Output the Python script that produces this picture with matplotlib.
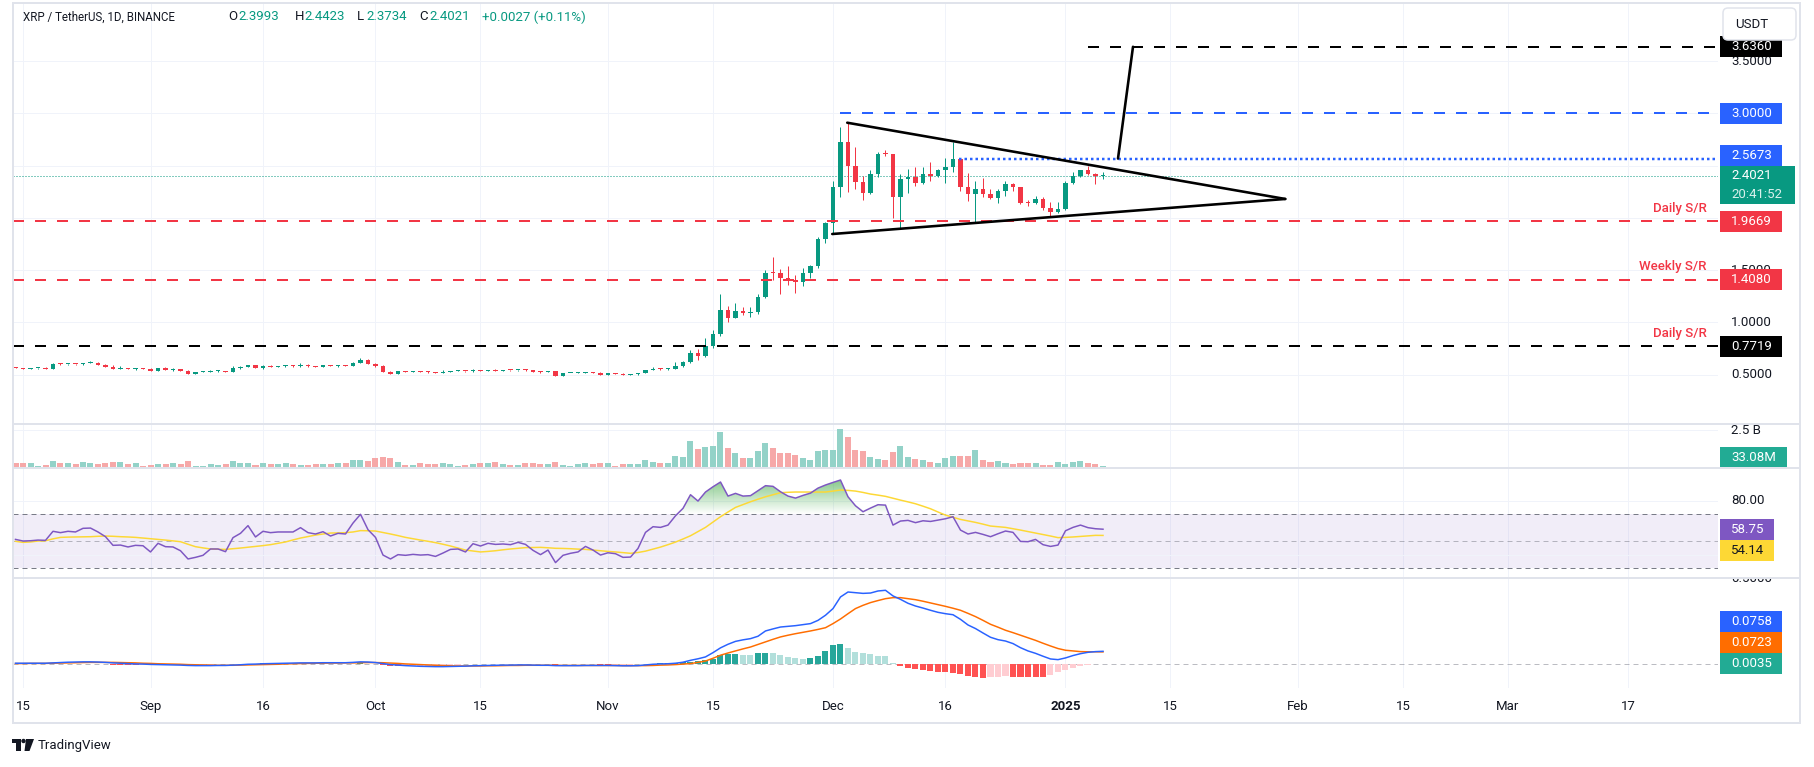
import numpy as np
import matplotlib.pyplot as plt
from matplotlib.patches import Rectangle, FancyBboxPatch, Circle, Polygon
from matplotlib.colors import LinearSegmentedColormap
from matplotlib.path import Path

plt.rcParams['font.family'] = ['Roboto', 'DejaVu Sans']
plt.rcParams['lines.scale_dashes'] = False

# XRP/USDT daily candles, day 0 = 2024-08-15, first candle is day -1
first_day = -1
first_open = 0.571
close = [0.565, 0.559, 0.562, 0.565, 0.559, 0.606, 0.600, 0.603, 0.600, 0.613,
         0.616, 0.597, 0.578, 0.559, 0.562, 0.559, 0.562, 0.559, 0.536, 0.565,
         0.546, 0.552, 0.536, 0.511, 0.527, 0.528, 0.536, 0.537, 0.530, 0.565,
         0.575, 0.594, 0.568, 0.587, 0.578, 0.584, 0.587, 0.581, 0.597, 0.581,
         0.579, 0.590, 0.587, 0.590, 0.587, 0.616, 0.641, 0.606, 0.584, 0.530,
         0.511, 0.536, 0.530, 0.533, 0.529, 0.524, 0.520, 0.530, 0.536, 0.537,
         0.533, 0.546, 0.540, 0.546, 0.540, 0.546, 0.543, 0.546, 0.543, 0.530,
         0.529, 0.533, 0.492, 0.517, 0.518, 0.519, 0.524, 0.520, 0.501, 0.517,
         0.511, 0.501, 0.508, 0.517, 0.546, 0.558, 0.552, 0.558, 0.584, 0.622,
         0.705, 0.679, 0.772, 0.890, 1.119, 1.046, 1.110, 1.094, 1.100, 1.244,
         1.473, 1.470, 1.429, 1.403, 1.390, 1.473, 1.540, 1.798, 1.948, 2.292,
         2.729, 2.496, 2.346, 2.241, 2.420, 2.614, 2.610, 2.203, 2.372, 2.394,
         2.331, 2.420, 2.398, 2.455, 2.484, 2.563, 2.298, 2.232, 2.276, 2.232,
         2.193, 2.260, 2.324, 2.292, 2.145, 2.141, 2.178, 2.092, 2.053, 2.085,
         2.334, 2.398, 2.455, 2.417, 2.3993, 2.4021]
high = [0.575, 0.568, 0.566, 0.568, 0.575, 0.610, 0.616, 0.607, 0.606, 0.616,
        0.632, 0.619, 0.600, 0.597, 0.584, 0.566, 0.565, 0.566, 0.562, 0.568,
        0.575, 0.562, 0.556, 0.546, 0.530, 0.533, 0.546, 0.543, 0.540, 0.584,
        0.581, 0.597, 0.597, 0.590, 0.590, 0.587, 0.590, 0.590, 0.613, 0.600,
        0.587, 0.594, 0.594, 0.594, 0.594, 0.619, 0.661, 0.648, 0.613, 0.590,
        0.533, 0.540, 0.540, 0.536, 0.537, 0.533, 0.527, 0.546, 0.540, 0.543,
        0.540, 0.552, 0.549, 0.549, 0.559, 0.549, 0.549, 0.549, 0.559, 0.546,
        0.533, 0.536, 0.536, 0.520, 0.521, 0.524, 0.527, 0.527, 0.524, 0.520,
        0.520, 0.514, 0.511, 0.520, 0.549, 0.578, 0.562, 0.562, 0.625, 0.635,
        0.737, 0.743, 0.855, 0.928, 1.272, 1.158, 1.186, 1.148, 1.148, 1.269,
        1.502, 1.626, 1.508, 1.540, 1.454, 1.521, 1.553, 1.817, 1.958, 2.353,
        2.872, 2.910, 2.681, 2.401, 2.458, 2.630, 2.649, 2.612, 2.420, 2.468,
        2.483, 2.487, 2.538, 2.467, 2.573, 2.722, 2.576, 2.426, 2.353, 2.378,
        2.279, 2.273, 2.353, 2.337, 2.295, 2.171, 2.209, 2.197, 2.152, 2.152,
        2.356, 2.442, 2.458, 2.499, 2.426, 2.4423]
low = [0.562, 0.556, 0.556, 0.559, 0.556, 0.556, 0.594, 0.597, 0.597, 0.597,
       0.610, 0.594, 0.575, 0.556, 0.556, 0.556, 0.549, 0.556, 0.533, 0.533,
       0.543, 0.540, 0.533, 0.505, 0.508, 0.524, 0.524, 0.530, 0.527, 0.527,
       0.559, 0.571, 0.565, 0.556, 0.575, 0.575, 0.578, 0.578, 0.578, 0.578,
       0.575, 0.575, 0.584, 0.575, 0.584, 0.584, 0.613, 0.600, 0.578, 0.524,
       0.505, 0.508, 0.527, 0.527, 0.524, 0.517, 0.517, 0.517, 0.527, 0.533,
       0.530, 0.530, 0.536, 0.536, 0.536, 0.536, 0.540, 0.540, 0.540, 0.527,
       0.514, 0.524, 0.489, 0.489, 0.514, 0.514, 0.514, 0.517, 0.498, 0.498,
       0.508, 0.495, 0.498, 0.501, 0.514, 0.543, 0.549, 0.549, 0.552, 0.578,
       0.610, 0.641, 0.670, 0.760, 0.870, 1.008, 1.040, 1.072, 1.056, 1.084,
       1.237, 1.406, 1.276, 1.362, 1.285, 1.352, 1.425, 1.524, 1.763, 1.859,
       2.203, 2.251, 2.273, 2.171, 2.228, 2.388, 2.595, 2.002, 1.907, 2.235,
       2.308, 2.321, 2.356, 2.388, 2.337, 2.442, 2.254, 2.165, 1.954, 2.197,
       2.181, 2.139, 2.209, 2.260, 2.130, 2.114, 2.130, 2.075, 2.015, 2.044,
       2.075, 2.324, 2.388, 2.407, 2.324, 2.3734]
volume_m = [307, 307, 307, 132, 197, 439, 307, 307, 241, 373,
            307, 241, 307, 373, 373, 241, 307, 132, 175, 241,
            241, 307, 241, 439, 132, 132, 241, 175, 241, 439,
            307, 307, 175, 307, 241, 241, 307, 241, 175, 175,
            241, 241, 241, 307, 307, 504, 504, 439, 636, 702,
            636, 373, 175, 175, 307, 241, 241, 307, 241, 110,
            175, 241, 307, 307, 373, 241, 175, 175, 307, 307,
            241, 241, 373, 175, 110, 241, 307, 241, 300, 307,
            140, 270, 270, 270, 520, 400, 350, 350, 790, 720,
            1780, 1250, 1402, 1468, 2388, 1336, 1008, 679, 679, 1139,
            1665, 1336, 1008, 1008, 876, 679, 548, 1139, 1205, 1205,
            2585, 2015, 1205, 1139, 745, 613, 548, 1073, 1468, 745,
            613, 548, 416, 350, 679, 811, 811, 811, 1205, 548,
            416, 482, 350, 285, 350, 350, 350, 219, 219, 416,
            285, 416, 482, 350, 285, 150]
rsi = [51.2, 50.0, 50.2, 50.7, 50.5, 57.2, 56.2, 57.2, 56.7, 59.4,
       59.6, 56.7, 53.2, 46.8, 47.0, 45.6, 46.8, 46.5, 41.9, 48.3,
       45.8, 45.6, 42.8, 36.7, 37.9, 39.4, 44.1, 44.1, 42.1, 52.5,
       55.7, 61.4, 53.0, 57.2, 56.2, 56.7, 56.7, 56.7, 59.9, 56.2,
       55.2, 56.9, 53.7, 55.7, 55.2, 63.3, 69.8, 58.4, 52.7, 39.6,
       36.7, 39.9, 39.4, 40.1, 39.6, 39.9, 38.6, 41.1, 43.8, 44.1,
       41.9, 48.0, 46.3, 48.3, 47.5, 47.8, 47.3, 49.0, 47.5, 43.1,
       39.9, 43.3, 34.0, 39.4, 40.9, 41.9, 46.0, 43.3, 39.6, 41.3,
       40.6, 37.9, 38.1, 44.5, 56.4, 60.6, 60.1, 61.8, 68.7, 74.2,
       84.3, 79.6, 86.3, 90.2, 93.7, 83.3, 85.3, 83.3, 83.6, 87.3,
       91.0, 90.5, 86.5, 83.3, 81.8, 83.8, 85.5, 89.2, 91.5, 93.4,
       95.2, 82.8, 76.1, 71.7, 74.4, 76.9, 76.6, 61.8, 64.8, 65.3,
       63.6, 65.0, 64.5, 65.5, 66.5, 68.0, 58.1, 55.2, 56.4, 54.9,
       53.2, 55.4, 57.4, 56.4, 49.7, 49.5, 51.2, 47.3, 46.0, 47.0,
       57.6, 60.1, 61.8, 59.9, 59.1, 58.75]
rsi_ma = [49.8, 49.0, 49.3, 50.0, 50.2, 51.6, 52.7, 52.9, 53.0, 53.1,
          53.2, 53.5, 53.7, 53.5, 53.2, 53.0, 52.7, 52.2, 51.7, 51.2,
          50.7, 50.1, 49.5, 47.6, 45.8, 44.9, 44.1, 43.9, 43.8, 44.3,
          44.8, 45.4, 46.0, 46.6, 47.3, 48.3, 49.3, 50.8, 52.2, 53.3,
          54.4, 55.2, 55.9, 56.0, 56.2, 56.7, 57.7, 57.6, 57.4, 56.3,
          55.2, 54.0, 52.7, 51.7, 50.7, 49.8, 48.8, 47.6, 46.3, 44.8,
          43.3, 42.6, 41.9, 42.3, 42.8, 43.5, 44.1, 44.6, 45.1, 45.2,
          45.3, 45.0, 44.6, 44.5, 44.3, 44.0, 43.8, 43.3, 42.8, 42.3,
          41.9, 41.4, 40.9, 41.5, 42.5, 44.0, 45.5, 47.3, 49.2, 51.5,
          53.9, 57.0, 60.1, 64.0, 68.0, 71.5, 74.9, 77.0, 79.1, 81.0,
          82.8, 84.3, 85.8, 86.1, 86.3, 86.3, 86.3, 86.3, 86.3, 87.0,
          87.8, 87.5, 87.0, 86.0, 84.8, 84.0, 83.1, 81.7, 80.3, 79.0,
          77.6, 75.8, 73.9, 71.5, 69.2, 67.6, 66.0, 64.9, 63.8, 62.5,
          61.1, 60.6, 60.1, 59.1, 58.1, 57.0, 55.9, 54.8, 53.7, 52.5,
          52.7, 53.0, 53.4, 53.8, 54.2, 54.14]
macd = [0.006, 0.006, 0.006, 0.006, 0.006, 0.008, 0.010, 0.012, 0.013, 0.014,
        0.014, 0.013, 0.011, 0.008, 0.006, 0.004, 0.002, 0.001, -0.001, -0.002,
        -0.003, -0.004, -0.005, -0.007, -0.008, -0.008, -0.008, -0.007, -0.007, -0.005,
        -0.003, 0.000, 0.001, 0.003, 0.004, 0.005, 0.006, 0.007, 0.008, 0.008,
        0.008, 0.009, 0.009, 0.009, 0.009, 0.011, 0.014, 0.013, 0.010, 0.004,
        -0.002, -0.005, -0.008, -0.010, -0.012, -0.013, -0.014, -0.014, -0.013, -0.012,
        -0.011, -0.009, -0.008, -0.007, -0.006, -0.005, -0.005, -0.004, -0.004, -0.005,
        -0.006, -0.006, -0.008, -0.008, -0.008, -0.008, -0.007, -0.007, -0.007, -0.007,
        -0.008, -0.009, -0.009, -0.008, -0.004, 0.000, 0.002, 0.003, 0.006, 0.012,
        0.023, 0.032, 0.043, 0.068, 0.096, 0.117, 0.134, 0.143, 0.150, 0.164,
        0.195, 0.207, 0.218, 0.222, 0.226, 0.232, 0.238, 0.257, 0.287, 0.326,
        0.394, 0.423, 0.419, 0.415, 0.417, 0.429, 0.433, 0.400, 0.380, 0.357,
        0.341, 0.329, 0.316, 0.304, 0.296, 0.290, 0.263, 0.230, 0.209, 0.183,
        0.158, 0.144, 0.136, 0.121, 0.097, 0.078, 0.064, 0.047, 0.031, 0.027,
        0.037, 0.051, 0.062, 0.070, 0.074, 0.0758]
signal = [0.004, 0.004, 0.005, 0.005, 0.005, 0.006, 0.007, 0.008, 0.009, 0.010,
          0.011, 0.011, 0.011, 0.011, 0.010, 0.009, 0.008, 0.006, 0.005, 0.003,
          0.002, 0.001, 0.000, -0.002, -0.003, -0.004, -0.005, -0.006, -0.006, -0.006,
          -0.005, -0.004, -0.003, -0.002, -0.001, 0.000, 0.002, 0.003, 0.004, 0.005,
          0.006, 0.006, 0.007, 0.007, 0.008, 0.008, 0.009, 0.010, 0.010, 0.009,
          0.007, 0.005, 0.002, 0.000, -0.002, -0.004, -0.006, -0.008, -0.009, -0.010,
          -0.010, -0.010, -0.010, -0.009, -0.009, -0.008, -0.007, -0.007, -0.006, -0.006,
          -0.006, -0.006, -0.006, -0.007, -0.007, -0.007, -0.007, -0.007, -0.007, -0.007,
          -0.007, -0.008, -0.008, -0.008, -0.008, -0.007, -0.005, -0.004, -0.002, 0.001,
          0.004, 0.011, 0.019, 0.035, 0.053, 0.066, 0.078, 0.090, 0.101, 0.116,
          0.131, 0.146, 0.160, 0.170, 0.179, 0.187, 0.195, 0.204, 0.214, 0.238,
          0.265, 0.296, 0.326, 0.345, 0.361, 0.373, 0.384, 0.390, 0.390, 0.384,
          0.378, 0.369, 0.359, 0.349, 0.339, 0.328, 0.316, 0.298, 0.279, 0.257,
          0.234, 0.217, 0.199, 0.185, 0.170, 0.155, 0.140, 0.123, 0.107, 0.092,
          0.082, 0.078, 0.074, 0.073, 0.073, 0.0723]
hist = [0.002, 0.002, 0.001, 0.001, 0.001, 0.002, 0.003, 0.004, 0.004, 0.004,
        0.003, 0.002, 0.000, -0.003, -0.004, -0.005, -0.006, -0.005, -0.006, -0.005,
        -0.005, -0.005, -0.005, -0.005, -0.005, -0.004, -0.003, -0.001, -0.001, 0.001,
        0.002, 0.004, 0.004, 0.005, 0.005, 0.005, 0.004, 0.004, 0.004, 0.003,
        0.002, 0.003, 0.002, 0.002, 0.001, 0.003, 0.005, 0.003, 0.000, -0.005,
        -0.009, -0.010, -0.010, -0.010, -0.010, -0.009, -0.008, -0.006, -0.004, -0.002,
        -0.001, 0.001, 0.002, 0.002, 0.003, 0.003, 0.002, 0.003, 0.002, 0.001,
        0.000, 0.000, -0.002, -0.001, -0.001, -0.001, 0.000, 0.000, -0.003, -0.004,
        -0.004, -0.004, -0.002, 0.001, 0.003, 0.004, 0.005, 0.006, 0.008, 0.011,
        0.014, 0.020, 0.027, 0.031, 0.053, 0.060, 0.061, 0.056, 0.053, 0.064,
        0.065, 0.064, 0.053, 0.041, 0.039, 0.031, 0.039, 0.051, 0.076, 0.115,
        0.118, 0.094, 0.072, 0.066, 0.060, 0.051, 0.047, 0.010, -0.012, -0.020,
        -0.028, -0.034, -0.040, -0.045, -0.048, -0.052, -0.058, -0.066, -0.072, -0.080,
        -0.076, -0.073, -0.070, -0.072, -0.073, -0.074, -0.075, -0.076, -0.060, -0.048,
        -0.035, -0.022, -0.012, -0.005, -0.001, 0.0035]

tick_days = [0, 17, 32, 47, 61, 78, 92, 108, 123, 139, 153, 170, 184, 198, 214]
tick_labels = ['15', 'Sep', '16', 'Oct', '15', 'Nov', '15', 'Dec', '16', '2025',
               '15', 'Feb', '15', 'Mar', '17']
price_ticks = [0.5, 1.0, 1.5, 2.0, 2.5, 3.0, 3.5]

target_level = 3.6360
blue_level = 3.0
breakout_level = 2.5673
last_price = 2.4021
daily_sr = 1.9669
weekly_sr = 1.4080
daily_sr2 = 0.7719

tri_upper = ([109.9, 168.3], [2.910, 2.181])
tri_lower = ([107.9, 168.3], [1.846, 2.181])
projection = ([146.0, 148.0], [2.5673, 3.636])

# colours
GREEN = '#089981'
RED = '#f23645'
BLUE = '#2962ff'
TXT = '#131722'
GRID = '#f0f3fa'
BORDER = '#e0e3eb'
FS = 9.5

W, H = 1814, 767
PANE_L, PANE_R, SCALE_R = 12.5, 1718, 1800
DAY0_PX, DAY_PX = 23, 7.5


def px(v):
    return v * 0.72


def frac(x0, y0, x1, y1):
    return [x0 / W, 1 - y1 / H, (x1 - x0) / W, (y1 - y0) / H]


xl = (PANE_L - DAY0_PX) / DAY_PX
xr = (PANE_R - DAY0_PX) / DAY_PX

fig = plt.figure(figsize=(W / 100, H / 100), dpi=100)
fig.patch.set_facecolor('white')


def make_pane(y0, y1, ylim):
    ax = fig.add_axes(frac(PANE_L, y0, PANE_R, y1))
    ax.set_xlim(xl, xr)
    ax.set_ylim(*ylim)
    for s in ax.spines.values():
        s.set_visible(False)
    ax.set_xticks([])
    ax.set_yticks([])
    ax.set_facecolor('none')
    for td in tick_days:
        ax.axvline(td, color=GRID, lw=px(1), zorder=0)
    sax = fig.add_axes(frac(PANE_R, y0, SCALE_R, y1))
    sax.set_xlim(0, 1)
    sax.set_ylim(*ylim)
    sax.axis('off')
    upp = (ylim[1] - ylim[0]) / (y1 - y0)
    return ax, sax, upp


TX = (1731 - PANE_R) / (SCALE_R - PANE_R)


def scale_text(sax, yv, txt):
    sax.text(TX, yv, txt, color=TXT, fontsize=FS, va='center', ha='left', zorder=2,
             clip_on=True)


def tag(sax, yv, txt, bg, upp, right=1782, fg='white', hpx=21):
    x0 = (1720 - PANE_R) / (SCALE_R - PANE_R)
    x1 = (right - PANE_R) / (SCALE_R - PANE_R)
    sax.add_patch(Rectangle((x0, yv - hpx / 2 * upp), x1 - x0, hpx * upp,
                            fc=bg, ec='none', zorder=3))
    sax.text(TX, yv, txt, color=fg, fontsize=FS, va='center', ha='left', zorder=4)


n = len(close)
x = np.arange(n) + first_day
c = np.array(close)
o = np.r_[first_open, c[:-1]]
up = c >= o

# ---------------- main price pane ----------------
ax, sax, upp = make_pane(3, 424, (0.0296, 4.0545))
for p in price_ticks:
    ax.axhline(p, color=GRID, lw=px(1), zorder=0)
    scale_text(sax, p, f'{p:.4f}')

cols = np.where(up, GREEN, RED)
ax.vlines(x, low, high, colors=cols, lw=px(1), zorder=2)
ax.bar(x, np.maximum(np.abs(c - o), upp), bottom=np.minimum(o, c), width=0.66,
       color=cols, linewidth=0, zorder=2)

dash = (0, (px(11), px(11)))
ax.plot([142.0, xr], [target_level] * 2, color='black', lw=px(2), ls=dash, zorder=3)
ax.plot([108.9, xr], [blue_level] * 2, color=BLUE, lw=px(2), ls=dash, zorder=3)
ax.plot([124.8, xr], [breakout_level] * 2, color=BLUE, lw=px(2.5),
        ls=(0, (px(2.5), px(3))), zorder=3)
ax.axhline(last_price, color=GREEN, lw=px(1), ls=(0, (px(1), px(2))), zorder=1)
ax.plot([xl, xr], [daily_sr] * 2, color=RED, lw=px(2), ls=dash, zorder=3)
ax.plot([xl, xr], [weekly_sr] * 2, color=RED, lw=px(2), ls=dash, zorder=3)
ax.plot([xl, xr], [daily_sr2] * 2, color='black', lw=px(2), ls=dash, zorder=3)
for lvl, lab in [(daily_sr, 'Daily S/R'), (weekly_sr, 'Weekly S/R'), (daily_sr2, 'Daily S/R')]:
    ax.text(224.5, lvl + 13 * upp, lab, color=RED, fontsize=FS, ha='right', va='center',
            fontweight='medium', zorder=4)

ax.plot(*tri_upper, color='black', lw=px(2.6), solid_capstyle='round', zorder=4)
ax.plot(*tri_lower, color='black', lw=px(2.6), solid_capstyle='round', zorder=4)
ax.plot(*projection, color='black', lw=px(2.6), solid_capstyle='round', zorder=4)

# price scale tags
tag(sax, target_level, f'{target_level:.4f}', 'black', upp)
tag(sax, blue_level, f'{blue_level:.4f}', BLUE, upp)
green_top = last_price + 9.8 * upp
tag(sax, max(breakout_level, green_top + 10.5 * upp), f'{breakout_level:.4f}', BLUE, upp)
x0f = (1720 - PANE_R) / (SCALE_R - PANE_R)
x1f = (1795 - PANE_R) / (SCALE_R - PANE_R)
sax.add_patch(Rectangle((x0f, last_price - 28.2 * upp), x1f - x0f, 38 * upp,
                        fc=GREEN, ec='none', zorder=3))
sax.text(TX, last_price, f'{last_price:.4f}', color='white', fontsize=FS, va='center', zorder=4)
sax.text(TX, last_price - 18.2 * upp, '20:41:52', color='#d8f1ec', fontsize=FS,
         va='center', zorder=4)
tag(sax, daily_sr, f'{daily_sr:.4f}', RED, upp)
tag(sax, weekly_sr, f'{weekly_sr:.4f}', RED, upp)
tag(sax, daily_sr2, f'{daily_sr2:.4f}', 'black', upp)

# ---------------- volume pane ----------------
vax, vsax, vupp = make_pane(424, 468, (0, 2895))
vax.axhline(2500, color=GRID, lw=px(1), zorder=0)
vax.bar(x, volume_m, width=0.8, color=np.where(up, '#93d2c8', '#f6a8a8'), linewidth=0, zorder=2)
scale_text(vsax, 2500, '2.5 B')
tag(vsax, 11 * vupp, '33.08M', '#22ab94', vupp, right=1787)

# ---------------- RSI pane ----------------
rax, rsax, rupp = make_pane(468, 578, (22.6, 104.1))
rax.axhspan(30, 70, color='#7e57c2', alpha=0.1, lw=0, zorder=0)
for g in (40, 80):
    rax.axhline(g, color=GRID, lw=px(1), zorder=0)
rdash = (0, (px(5), px(4)))
rax.axhline(70, color='#787b86', lw=px(1), ls=rdash, zorder=1)
rax.axhline(30, color='#787b86', lw=px(1), ls=rdash, zorder=1)
rax.axhline(50, color='#787b86', lw=px(1), ls=rdash, alpha=0.5, zorder=1)
ra = np.array(rsi)
fb = rax.fill_between(x, ra, 70, where=ra > 70, interpolate=True, color='none', lw=0)
clip = Path.make_compound_path(*fb.get_paths())
gcmap = LinearSegmentedColormap.from_list(
    'g', [(0.298, 0.686, 0.314, 0.0), (0.298, 0.686, 0.314, 0.8)])
im = rax.imshow(np.linspace(0, 1, 256).reshape(-1, 1), extent=[xl, xr, 70, 100],
                origin='lower', aspect='auto', cmap=gcmap, zorder=1)
im.set_clip_path(clip, transform=rax.transData)
rax.set_xlim(xl, xr)
rax.set_ylim(22.6, 104.1)
rax.plot(x, rsi_ma, color='#fdd835', lw=px(1.5), zorder=2)
rax.plot(x, rsi, color='#7e57c2', lw=px(1.5), zorder=3)
scale_text(rsax, 80, '80.00')
tag(rsax, rsi[-1], f'{rsi[-1]:.2f}', '#7e57c2', rupp, right=1774)
tag(rsax, rsi[-1] - 21 * rupp, f'{rsi_ma[-1]:.2f}', '#fdd835', rupp, right=1774, fg=TXT)

# ---------------- MACD pane ----------------
max_, msax, mupp = make_pane(578, 688, (-0.139, 0.505))
max_.axhline(0, color='#787b86', lw=px(1), ls=rdash, alpha=0.5, zorder=1)
h = np.array(hist)
hp = np.r_[h[0], h[:-1]]
hcol = np.where(h >= 0, np.where(h >= hp, '#26a69a', '#b2dfdb'),
                np.where(h < hp, '#ff5252', '#ffcdd2'))
max_.bar(x, h, width=0.8, color=hcol, linewidth=0, zorder=2)
max_.plot(x, signal, color='#ff6d00', lw=px(1.5), zorder=3)
max_.plot(x, macd, color=BLUE, lw=px(1.5), zorder=4)
scale_text(msax, 0.5, '0.5000')
tag(msax, h[-1], f'{h[-1]:.4f}', '#22ab94', mupp)
tag(msax, h[-1] + 21 * mupp, f'{signal[-1]:.4f}', '#ff6d00', mupp)
tag(msax, h[-1] + 42 * mupp, f'{macd[-1]:.4f}', BLUE, mupp)

max_.set_xticks(tick_days)
max_.set_xticklabels(tick_labels, fontsize=FS, color=TXT)
max_.tick_params(axis='x', length=0, pad=px(12))
for lab in max_.get_xticklabels():
    if lab.get_text() == '2025':
        lab.set_fontweight('bold')

# ---------------- overlay: frame, title, logo ----------------
ov = fig.add_axes([0, 0, 1, 1], zorder=10)
ov.set_xlim(0, W)
ov.set_ylim(H, 0)
ov.axis('off')
ov.add_patch(Rectangle((PANE_L, 3), SCALE_R - PANE_L, 720, fc='none', ec=BORDER, lw=px(2)))
for yy in (424, 468, 578):
    ov.plot([PANE_L, SCALE_R], [yy, yy], color=BORDER, lw=px(2))

ty = 17
ov.text(23, ty, 'XRP / TetherUS, 1D, BINANCE', color=TXT, fontsize=8.3, va='center')
for lx, letter, val in [(228.5, 'O', '2.3993'), (294.5, 'H', '2.4423'),
                        (357, 'L', '2.3734'), (419.5, 'C', '2.4021')]:
    ov.text(lx, ty, letter, color=TXT, fontsize=FS, va='center')
    ov.text(lx + 9.5, ty, val, color=GREEN, fontsize=FS, va='center')
ov.text(482, ty, '+0.0027 (+0.11%)', color=GREEN, fontsize=FS, va='center')

ov.add_patch(FancyBboxPatch((1723, 8), 73, 32, boxstyle='round,pad=0,rounding_size=5',
                            fc='white', ec=BORDER, lw=px(1.5)))
ov.text(1735, 24, 'USDT', color=TXT, fontsize=FS, va='center')

# TradingView logo
ov.add_patch(Rectangle((12, 739), 8.5, 3.5, fc=TXT, ec='none'))
ov.add_patch(Rectangle((16, 739), 4.5, 12, fc=TXT, ec='none'))
ov.add_patch(Circle((23.5, 741), 2.2, fc=TXT, ec='none'))
ov.add_patch(Polygon([(26, 739), (34, 739), (29.5, 751), (24.5, 751)], fc=TXT, ec='none'))
ov.text(38, 746, 'TradingView', color=TXT, fontsize=9.5, va='center')

fig.savefig('out.png', dpi=100)
